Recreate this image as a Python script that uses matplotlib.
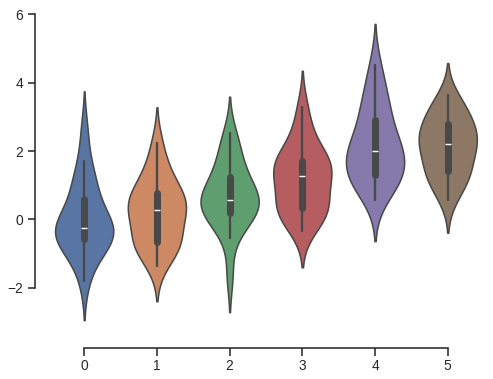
import numpy as np
import pandas as pd
import matplotlib
matplotlib.use("Agg")
import matplotlib.pyplot as plt
import seaborn as sns

# valori stimati dal grafico (20 osservazioni per gruppo)
g0 = [-1.8, -1.2, -0.95, -0.75, -0.62, -0.55, -0.45, -0.38, -0.33, -0.29,
      -0.23, -0.12, 0.02, 0.25, 0.55, 0.8, 1.0, 1.3, 1.70, 2.6]
g1 = [-1.35, -1.0, -0.8, -0.72, -0.68, -0.64, -0.4, -0.1, 0.15, 0.25,
      0.33, 0.4, 0.48, 0.55, 0.72, 0.95, 1.1, 1.3, 1.7, 2.24]
g2 = [-1.65, -0.55, -0.2, 0.05, 0.12, 0.2, 0.3, 0.42, 0.5, 0.55,
      0.61, 0.7, 0.85, 1.0, 1.2, 1.35, 1.6, 1.9, 2.2, 2.53]
g3 = [-0.34, -0.05, 0.12, 0.22, 0.28, 0.34, 0.55, 0.75, 0.95, 1.15,
      1.37, 1.45, 1.52, 1.6, 1.68, 1.78, 2.0, 2.3, 2.7, 3.29]
g4 = [0.56, 0.9, 1.1, 1.2, 1.25, 1.3, 1.5, 1.7, 1.85, 1.95,
      2.03, 2.15, 2.3, 2.5, 2.85, 3.1, 3.3, 3.6, 4.0, 4.53]
g5 = [0.56, 0.9, 1.1, 1.3, 1.37, 1.45, 1.7, 1.9, 2.05, 2.17,
      2.25, 2.35, 2.45, 2.6, 2.75, 2.88, 3.0, 3.2, 3.4, 3.63]

df = pd.DataFrame({0: g0, 1: g1, 2: g2, 3: g3, 4: g4, 5: g5})

sns.set_theme(style="ticks")
plt.rcParams['font.family'] = ['Liberation Sans', 'DejaVu Sans']

fig = plt.figure(figsize=(493 / 90, 379 / 90), dpi=90)
ax = fig.add_axes([0.097, 0.116, 0.885, 0.86])
sns.violinplot(data=df, ax=ax)
sns.despine(offset=10, trim=True)

plt.savefig("out.png", dpi=90)
plt.close(fig)
